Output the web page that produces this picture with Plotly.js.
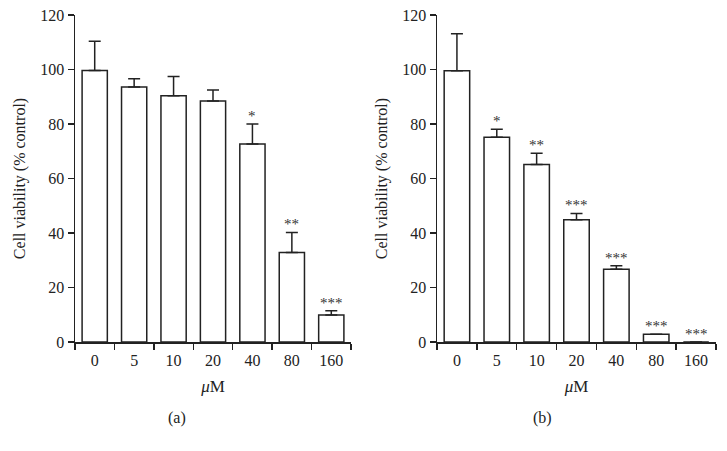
<!DOCTYPE html>
<html><head><meta charset="utf-8">
<script src="https://cdn.plot.ly/plotly-3.0.1.min.js"></script>
<style>html,body{margin:0;padding:0;background:#fff}#chart{width:727px;height:451px}</style>
</head><body><div id="chart"></div>
<script>
const categories = ['0','5','10','20','40','80','160'];
const valuesA = [99.6, 93.6, 90.4, 88.4, 72.7, 32.8, 9.9];
const errA    = [10.8, 3.0, 7.0, 4.1, 7.3, 7.4, 1.6];
const starsA  = ['', '', '', '', '*', '**', '***'];
const valuesB = [99.5, 75.1, 65.1, 44.9, 26.7, 2.8, 0];
const errB    = [13.6, 3.0, 4.2, 2.3, 1.3, 0, 0];
const starsB  = ['', '*', '**', '***', '***', '***', '***'];

const ink = '#222';
const fontFam = 'Liberation Serif';

function barTrace(vals, errs, xa, ya) {
  return {
    type: 'bar', x: categories, y: vals, xaxis: xa, yaxis: ya,
    width: 0.64,
    marker: {color: '#fff', line: {color: ink, width: 1.5}},
    error_y: {type: 'data', symmetric: false, array: errs, arrayminus: errs.map(() => 0),
              color: ink, thickness: 1.5, width: 6},
    showlegend: false, hoverinfo: 'skip'
  };
}

const data = [barTrace(valuesA, errA, 'x', 'y'), barTrace(valuesB, errB, 'x2', 'y2')];

const annotations = [];
function addStars(stars, vals, errs, xr, yr) {
  stars.forEach((s, i) => {
    if (!s) return;
    annotations.push({x: i, y: vals[i] + errs[i], xref: xr, yref: yr,
      text: s, showarrow: false, yanchor: 'bottom', yshift: -2,
      font: {family: fontFam, size: 15, color: '#333'}});
  });
}
addStars(starsA, valuesA, errA, 'x', 'y');
addStars(starsB, valuesB, errB, 'x2', 'y2');
annotations.push({x: 177/727, y: 1 - 418/451, xref: 'paper', yref: 'paper', text: '(a)', showarrow: false,
  xanchor: 'center', yanchor: 'middle', font: {family: fontFam, size: 16, color: ink}});
annotations.push({x: 542/727, y: 1 - 418/451, xref: 'paper', yref: 'paper', text: '(b)', showarrow: false,
  xanchor: 'center', yanchor: 'middle', font: {family: fontFam, size: 16, color: ink}});

const yDom = [1 - 342/451, 1 - 15/451];
function xAxis(dom, anchor) {
  return {domain: dom, anchor: anchor, type: 'category', range: [-0.5, 6.5],
    showline: true, linecolor: ink, linewidth: 1.5, ticks: 'outside', tickson: 'boundaries',
    ticklen: 6, tickwidth: 1.5, tickcolor: ink, showgrid: false, zeroline: false,
    ticklabelstandoff: 3,
    tickfont: {family: fontFam, size: 16, color: ink}, automargin: false,
    title: {text: '<i>μ</i>M', font: {family: fontFam, size: 17, color: ink}, standoff: 12}};
}
function yAxis(anchor) {
  return {domain: yDom, anchor: anchor, range: [0, 120], dtick: 20, tick0: 0,
    showline: true, linecolor: ink, linewidth: 1.5, ticks: 'outside', ticklen: 6, tickwidth: 1.5,
    tickcolor: ink, showgrid: false, zeroline: false, automargin: false,
    tickfont: {family: fontFam, size: 16, color: ink},
    title: {text: 'Cell viability (% control)', font: {family: fontFam, size: 16, color: ink}, standoff: 10}};
}

const layout = {
  width: 727, height: 451, margin: {l: 0, r: 0, t: 0, b: 0},
  paper_bgcolor: '#fff', plot_bgcolor: '#fff', bargap: 0.36,
  xaxis: xAxis([75/727, 351/727], 'y'),
  yaxis: yAxis('x'),
  xaxis2: xAxis([437/727, 716/727], 'y2'),
  yaxis2: yAxis('x2'),
  annotations: annotations,
  showlegend: false
};

Plotly.newPlot('chart', data, layout, {staticPlot: true, displayModeBar: false});
</script></body></html>
